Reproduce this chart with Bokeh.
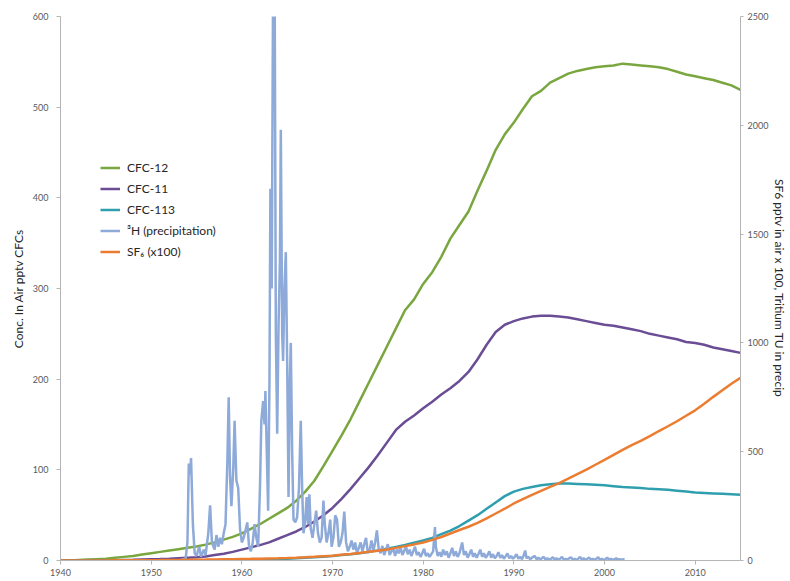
from bokeh.plotting import figure
from bokeh.models import Range1d, LinearAxis, Legend, LegendItem, FixedTicker
from bokeh.embed import file_html
from bokeh.resources import INLINE

# ---------------- data ----------------
years = list(range(1940, 2016))

cfc12 = [0, 0, 0.5, 1, 1.5, 2, 3, 4, 5, 6.5,
         8, 9.5, 11, 12.5, 14, 15.5, 17.5, 20, 23, 26,
         30, 35, 40, 46, 52, 58, 66, 76, 88, 104,
         121, 138, 156, 176, 196, 216, 236, 256, 276, 288,
         305, 318, 335, 355, 370, 385, 408, 430, 453, 470,
         483, 498, 512, 518, 527, 532, 537, 540, 542, 544,
         545, 546, 548, 547, 546, 545, 544, 542, 539, 536,
         534, 532, 530, 527, 524, 519]

cfc11 = [0, 0, 0, 0, 0, 0.2, 0.3, 0.5, 0.7, 1,
         1.3, 1.6, 2, 2.5, 3, 3.5, 4.5, 6, 7.5, 9.5,
         12, 14.5, 17, 20, 24, 28, 32, 37, 43, 50,
         58, 68, 79, 91, 103, 116, 130, 144, 153, 160,
         168, 175, 183, 190, 198, 208, 222, 238, 252, 260,
         264, 267, 269, 270, 270, 269, 268, 266, 264, 262,
         260, 259, 257, 255, 253, 250, 248, 246, 244, 241,
         240, 238, 235, 233, 231, 229]

cfc113 = [0, 0, 0, 0, 0, 0, 0, 0, 0, 0,
          0, 0, 0, 0, 0, 0, 0, 0, 0, 0,
          0.5, 0.7, 1, 1.3, 1.6, 2, 2.5, 3, 3.5, 4,
          5, 6, 7, 8, 9.5, 11, 13, 15, 17, 19.5,
          22, 25, 29, 33, 38, 44, 50, 57, 64, 71,
          76, 79, 81, 83, 84, 85, 85, 84.5, 84, 83.5,
          83, 82, 81, 80.5, 80, 79, 78.5, 78, 77, 76,
          75, 74.5, 74, 73.5, 73, 72.5]

# SF6 pptv x 100 (right axis)
sf6_x100 = [0, 0, 0, 0.2, 0.3, 0.5, 0.7, 0.9, 1.1, 1.4,
            1.7, 2, 2.4, 2.8, 3.2, 3.7, 4.2, 4.8, 5.4, 6,
            6.8, 7.6, 8.5, 9.5, 10.6, 11.8, 13.2, 15, 17, 19.5,
            22, 26, 30, 35, 40, 45, 51, 58, 66, 74,
            83, 95, 108, 124, 140, 155, 173, 194, 216, 238,
            262, 282, 302, 320, 338, 356, 376, 397, 418, 440,
            462, 485, 508, 530, 550, 572, 595, 617, 640, 665,
            690, 720, 752, 782, 812, 840]

# Tritium in precipitation, TU (right axis)
tritium_year = [
    1953.0, 1953.8, 1954.0, 1954.15, 1954.3, 1954.4, 1954.6, 1954.8,
    1955.0, 1955.3, 1955.5, 1955.8, 1956.0, 1956.3, 1956.5, 1956.7,
    1957.0, 1957.2, 1957.4, 1957.6, 1957.8, 1958.0, 1958.2, 1958.4,
    1958.55, 1958.7, 1958.85, 1959.05, 1959.2, 1959.4, 1959.6, 1959.8,
    1960.0, 1960.2, 1960.4, 1960.6, 1960.8, 1961.0, 1961.2, 1961.4,
    1961.6, 1961.8, 1962.0, 1962.15, 1962.35, 1962.5, 1962.6, 1962.75,
    1962.9, 1963.05, 1963.15, 1963.3, 1963.45, 1963.6, 1963.75, 1963.9,
    1964.05, 1964.2, 1964.3, 1964.45, 1964.55, 1964.7, 1964.85, 1965.0,
    1965.15, 1965.3, 1965.4, 1965.55, 1965.7, 1965.9, 1966.1, 1966.3,
    1966.5, 1966.65, 1966.8, 1967.0, 1967.15, 1967.3, 1967.45, 1967.6,
    1967.8, 1968.0, 1968.2, 1968.4, 1968.6, 1968.8, 1969.0, 1969.15,
    1969.35, 1969.55, 1969.75, 1969.9, 1970.1, 1970.3, 1970.5, 1970.7,
    1970.9, 1971.1, 1971.3, 1971.5, 1971.7, 1971.9, 1972.1, 1972.3,
    1972.5, 1972.7, 1972.9, 1973.1, 1973.3, 1973.5, 1973.7, 1973.9,
    1974.1, 1974.3, 1974.5, 1974.7, 1974.9, 1975.1, 1975.3, 1975.5,
    1975.7, 1975.9, 1976.1, 1976.3, 1976.5, 1976.7, 1976.9, 1977.1,
    1977.3, 1977.5, 1977.7, 1977.9, 1978.1, 1978.3, 1978.5, 1978.7,
    1978.9, 1979.1, 1979.3, 1979.5, 1979.7, 1979.9, 1980.1, 1980.3,
    1980.5, 1980.7, 1980.9, 1981.1, 1981.3, 1981.4, 1981.6, 1981.8,
    1982.0, 1982.2, 1982.4, 1982.6, 1982.8, 1983.0, 1983.2, 1983.4,
    1983.6, 1983.8, 1984.0, 1984.3, 1984.5, 1984.7, 1984.9, 1985.1,
    1985.3, 1985.5, 1985.7, 1985.9, 1986.1, 1986.3, 1986.5, 1986.7,
    1986.9, 1987.1, 1987.3, 1987.5, 1987.7, 1987.9, 1988.1, 1988.3,
    1988.5, 1988.7, 1988.9, 1989.1, 1989.3, 1989.5, 1989.7, 1989.9,
    1990.1, 1990.3, 1990.5, 1990.7, 1990.9, 1991.1, 1991.25, 1991.4,
    1991.6, 1991.8, 1992.0, 1992.3, 1992.5, 1992.7, 1992.9, 1993.1,
    1993.3, 1993.5, 1993.7, 1993.9, 1994.1, 1994.3, 1994.5, 1994.7,
    1994.9, 1995.1, 1995.3, 1995.5, 1995.7, 1995.9, 1996.1, 1996.3,
    1996.5, 1996.7, 1996.9, 1997.1, 1997.3, 1997.5, 1997.7, 1997.9,
    1998.1, 1998.3, 1998.5, 1998.7, 1998.9, 1999.1, 1999.3, 1999.5,
    1999.7, 1999.9, 2000.1, 2000.3, 2000.5, 2000.7, 2000.9, 2001.1,
    2001.3, 2001.5, 2001.7, 2001.9, 2002.1, 2002.2]

tritium_tu = [
    0, 8, 83, 446, 396, 471, 167, 33,
    21, 63, 17, 50, 25, 125, 254, 83,
    50, 117, 63, 104, 75, 125, 167, 450,
    750, 383, 250, 417, 642, 367, 333, 146,
    83, 104, 138, 175, 63, 42, 83, 167,
    104, 63, 333, 642, 733, 625, 779, 500,
    229, 833, 1708, 1250, 2700, 2917, 1042, 583,
    1083, 1375, 1979, 1042, 917, 1250, 1417, 917,
    292, 833, 1000, 500, 188, 175, 200, 333,
    642, 333, 125, 188, 292, 167, 304, 146,
    104, 167, 229, 125, 83, 104, 275, 167,
    83, 125, 188, 63, 104, 208, 188, 63,
    83, 125, 225, 83, 42, 63, 92, 50,
    83, 33, 58, 83, 42, 75, 104, 33,
    50, 92, 42, 83, 138, 50, 33, 67,
    25, 50, 75, 25, 42, 58, 21, 50,
    33, 63, 25, 42, 67, 29, 50, 21,
    42, 63, 25, 38, 17, 33, 54, 21,
    33, 17, 29, 42, 154, 63, 21, 38,
    17, 50, 25, 42, 13, 33, 58, 21,
    42, 17, 33, 83, 25, 42, 13, 29,
    50, 17, 33, 13, 30, 50, 17, 33,
    13, 25, 42, 13, 29, 10, 21, 38,
    12, 25, 8, 20, 33, 10, 21, 8,
    17, 29, 8, 17, 6, 25, 46, 10,
    17, 6, 13, 21, 6, 13, 4, 10,
    17, 4, 10, 4, 8, 15, 4, 10,
    4, 8, 17, 4, 8, 4, 10, 15,
    4, 8, 3, 8, 17, 4, 10, 3,
    8, 13, 4, 8, 3, 8, 15, 4,
    8, 3, 6, 13, 4, 8, 3, 6,
    10, 4, 6, 3, 6, 4]

x_ticks = [1940, 1950, 1960, 1970, 1980, 1990, 2000, 2010]
left_ticks = [0, 100, 200, 300, 400, 500, 600]
right_ticks = [0, 500, 1000, 1500, 2000, 2500]

series_names = ["CFC-12", "CFC-11", "CFC-113", "\u00b3H (precipitation)", "SF\u2086 (x100)"]
series_colors = ["#7aa63f", "#6a4d95", "#2f9fb0", "#8eaad9", "#ec7c30"]

FONT = "Lato"
AXIS_COL = "#b5b5b5"
TICK_TXT = "#595959"

# ---------------- figure ----------------
p = figure(width=790, height=581, output_backend="svg", toolbar_location=None,
           x_range=Range1d(1940, 2015), y_range=Range1d(0, 600),
           min_border_left=60, min_border_right=40, min_border_top=16,
           min_border_bottom=21, outline_line_color=None)
p.extra_y_ranges = {"right": Range1d(0, 2500)}
p.xgrid.visible = False
p.ygrid.visible = False
p.background_fill_color = "white"
p.border_fill_color = "white"

def style_axis(ax):
    ax.axis_line_color = AXIS_COL
    ax.major_tick_line_color = AXIS_COL
    ax.minor_tick_line_color = None
    ax.major_tick_out = 4
    ax.major_tick_in = 0
    ax.major_label_text_font = FONT
    ax.major_label_text_font_size = "9px"
    ax.major_label_text_color = TICK_TXT
    ax.axis_label_text_font = FONT
    ax.axis_label_text_font_size = "12px"
    ax.axis_label_text_font_style = "normal"
    ax.axis_label_text_color = "#262626"

xa = p.xaxis[0]
xa.ticker = FixedTicker(ticks=x_ticks)
style_axis(xa)
xa.major_label_standoff = 4

ya = p.yaxis[0]
ya.ticker = FixedTicker(ticks=left_ticks)
style_axis(ya)
ya.axis_label = "Conc. In Air pptv CFCs"
ya.major_label_standoff = 8
ya.axis_label_standoff = 4

ra = LinearAxis(y_range_name="right", ticker=FixedTicker(ticks=right_ticks))
style_axis(ra)
ra.major_tick_out = 3
ra.major_label_standoff = 4
ra.axis_label = "SF6 pptv in air x 100, Tritium TU in precip"
ra.axis_label_standoff = 1
p.add_layout(ra, "right")

lw = 2.5
r12 = p.line(years, cfc12, line_color=series_colors[0], line_width=lw)
r11 = p.line(years, cfc11, line_color=series_colors[1], line_width=lw)
r113 = p.line(years, cfc113, line_color=series_colors[2], line_width=lw)
rh3 = p.line(tritium_year, tritium_tu, line_color=series_colors[3], line_width=lw,
             y_range_name="right")
rsf6 = p.line(years, sf6_x100, line_color=series_colors[4], line_width=lw,
              y_range_name="right")

items = [LegendItem(label=n, renderers=[r]) for n, r in
         zip(series_names, [r12, r11, r113, rh3, rsf6])]
legend = Legend(items=items, location=(40, 298), border_line_color=None,
                background_fill_alpha=0, padding=5, margin=0, spacing=0,
                glyph_width=20, glyph_height=21, label_height=21,
                label_standoff=7, label_text_font=FONT,
                label_text_font_size="12px", label_text_color="#262626")
p.add_layout(legend, "center")

open("out.html", "w").write(file_html(p, INLINE))
